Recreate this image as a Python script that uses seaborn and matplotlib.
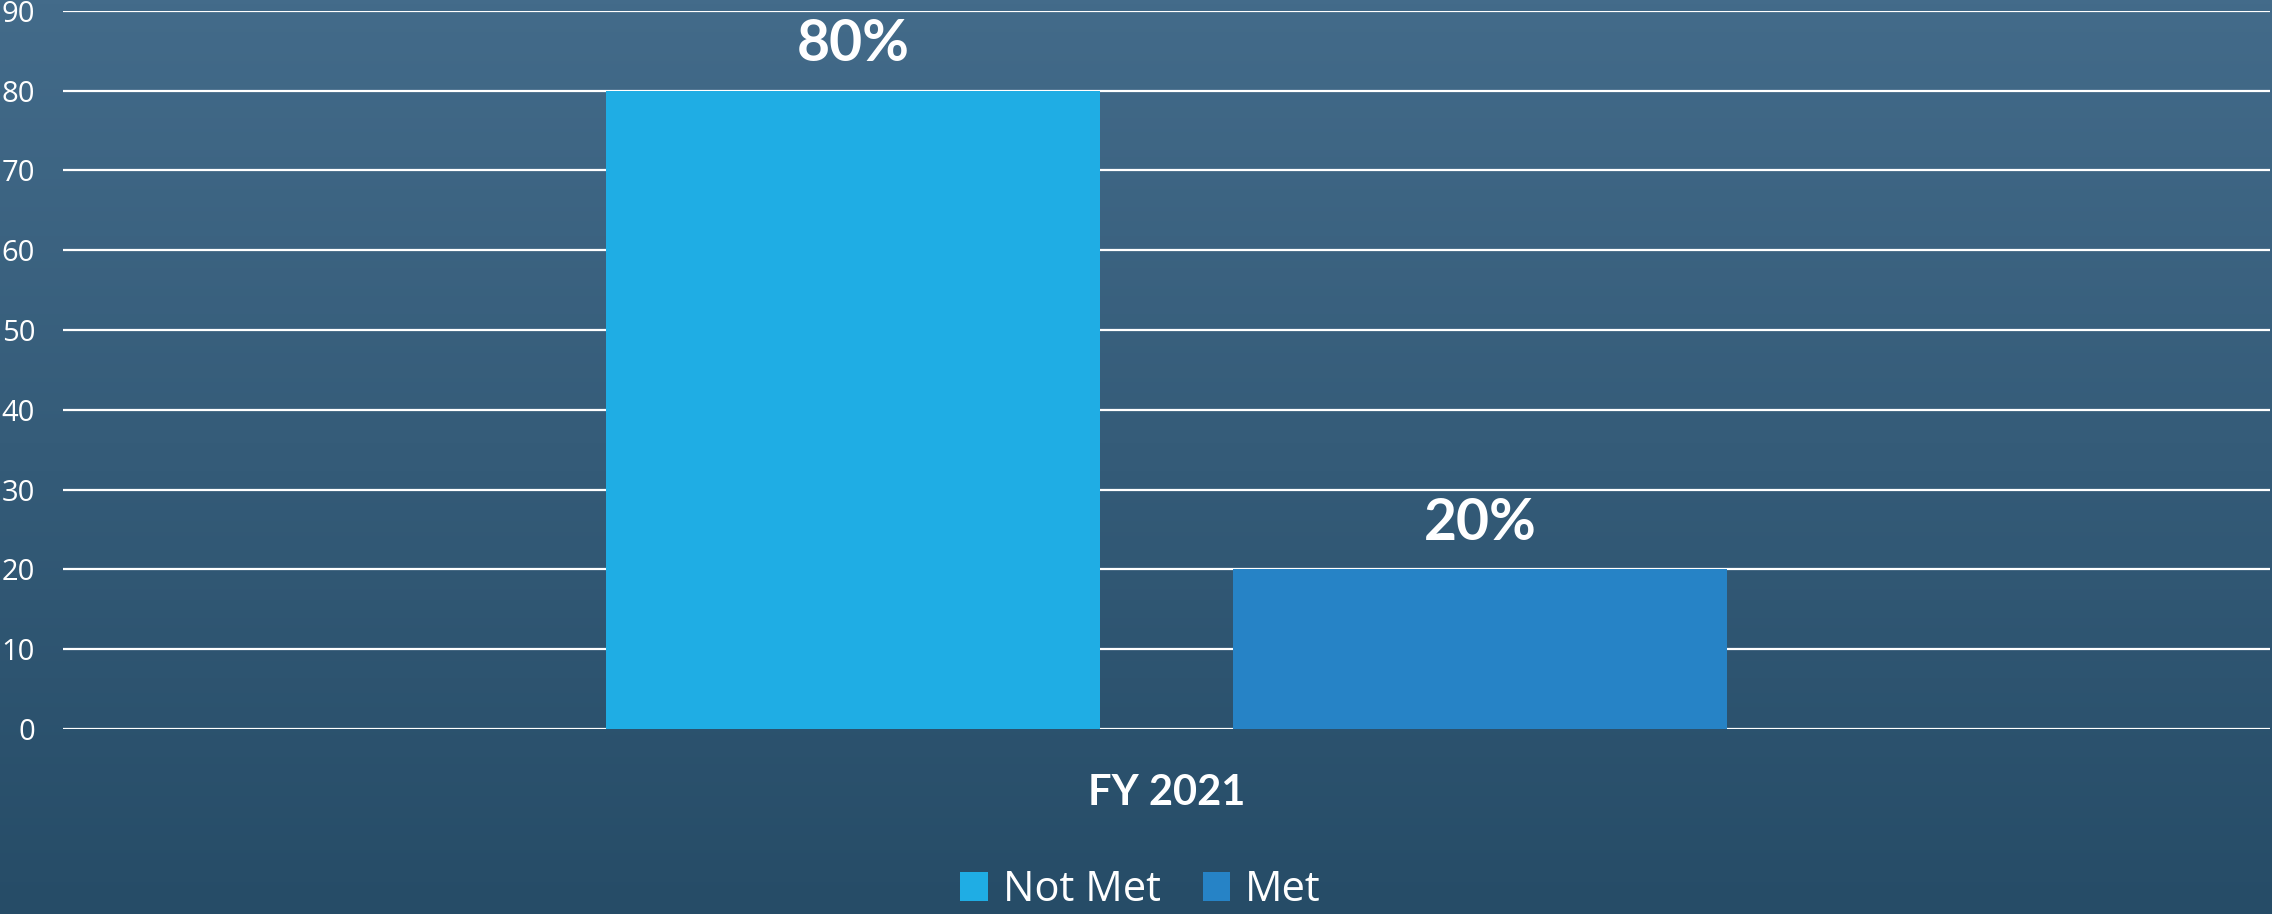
import numpy as np
import pandas as pd
import matplotlib
matplotlib.use("Agg")
import matplotlib.pyplot as plt
import seaborn as sns

# data
years = ["FY 2021"]
statuses = ["Not Met", "Met"]
values = [80, 20]
bar_colors = ["#1FADE4", "#2683C6"]

sns.set_style("white")
plt.rcParams["font.family"] = ["Open Sans", "DejaVu Sans"]

df = pd.DataFrame({
    "year": [years[0]] * len(statuses),
    "status": statuses,
    "value": values,
})

fig = plt.figure(figsize=(22.72, 9.14), dpi=100)

# vertical gradient background
bg = fig.add_axes([0, 0, 1, 1], zorder=-10)
top = np.array([67, 107, 138]) / 255
bottom = np.array([38, 76, 103]) / 255
t = np.linspace(0, 1, 256)[:, None]
grad = top * (1 - t) + bottom * t
bg.imshow(grad[:, None, :].repeat(2, axis=1), aspect="auto", extent=[0, 1, 0, 1])
bg.axis("off")

ax = fig.add_axes([0.0277, 0.2024, 0.9714, 0.7859])
ax.set_facecolor("none")

sns.barplot(data=df, x="year", y="value", hue="status", palette=bar_colors,
            width=0.8, gap=0.212, saturation=1, linewidth=0, ax=ax, legend=True)

ax.set_ylim(0, 90)
ax.set_yticks(range(0, 91, 10))
ax.set_xlim(-0.704, 0.704)
ax.yaxis.grid(True, color="white", linewidth=1.6)
ax.set_axisbelow(True)
for s in ax.spines.values():
    s.set_visible(False)
ax.tick_params(axis="y", length=0, pad=20, labelsize=21, labelcolor="white")
ax.set_xticks([])
ax.set_ylabel("")
ax.set_xlabel(years[0], color="white", fontsize=30, fontweight="bold",
              family=["Lato", "DejaVu Sans"])
ax.xaxis.set_label_coords(0.5, -0.062)

for cont in ax.containers:
    ax.bar_label(cont, labels=[f"{v:.0f}%" for v in cont.datavalues],
                 padding=14, color="white", fontsize=41, fontweight="bold",
                 family=["Lato", "DejaVu Sans"])

handles, labels = ax.get_legend_handles_labels()
ax.get_legend().remove()
for h in handles:
    h.set_edgecolor("none")
fig.legend(handles, labels, loc="center", bbox_to_anchor=(0.502, 0.026),
           ncol=2, frameon=False, fontsize=30, labelcolor="white",
           handlelength=0.67, handleheight=0.67, handletextpad=0.35,
           columnspacing=1.0, borderpad=0)

fig.savefig("out.png", dpi=100)
